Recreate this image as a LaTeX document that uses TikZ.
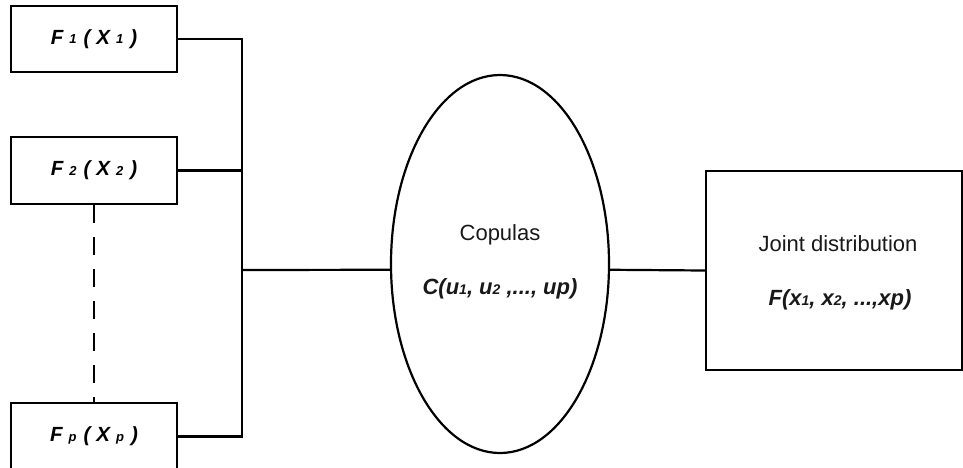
\documentclass[tikz,border=0pt]{standalone}
\usepackage{fontspec}
\setmainfont{Liberation Sans}
\usetikzlibrary{shapes.geometric}
\newcommand\smallsub[1]{\raisebox{0.5pt}{\fontsize{13}{13}\selectfont #1}}
\newcommand\flab[2]{F\hspace{6pt}\smallsub{#1}\hspace{7pt}(\hspace{6pt}X\hspace{6pt}\smallsub{#2}\hspace{7pt})}
\newcommand\tsub[1]{{\fontsize{14}{14}\selectfont #1}}
\begin{document}
\begin{tikzpicture}[x=1pt,y=-1pt,
  conn/.style={line width=2.2pt,black},
  fbox/.style={draw,line width=2.2pt,rectangle,minimum width=166pt,minimum height=66pt,inner sep=0pt,
     font=\fontsize{20.5}{20.5}\selectfont\bfseries\itshape},
  lbl/.style={inner sep=0pt,text=black!90}]
\useasboundingbox (0,0) rectangle (963,467);
\clip (0,0) rectangle (963,467);
\node[fbox] (F1) at (94,39) {\flab{1}{1}};
\node[fbox,minimum height=67pt] (F2) at (94,170.5) {\flab{2}{2}};
\node[fbox,minimum height=67pt] (Fp) at (94,436.5) {\flab{p}{p}};
\coordinate (b1) at (242,39);
\coordinate (b2) at (242,170.5);
\coordinate (bp) at (242,436.5);
\coordinate (bm) at (242,270);
\node[draw,ellipse,line width=2.2pt,minimum width=218pt,minimum height=378pt,inner sep=0pt] (C) at (500,264) {};
\node[lbl,font=\fontsize{22}{22}\selectfont] (cop) at (500,235) {Copulas};
\node[lbl,font=\fontsize{22}{22}\selectfont\bfseries\itshape] (cform) at (500,289) {C(u\tsub{1}, u\tsub{2} ,..., up)};
\node[draw,line width=2.2pt,rectangle,minimum width=256pt,minimum height=199pt,inner sep=0pt] (J) at (834,270.5) {};
\node[lbl,font=\fontsize{22}{22}\selectfont] (jd) at (838,244) {Joint distribution};
\node[lbl,font=\fontsize{22}{22}\selectfont\bfseries\itshape] (jform) at (840,300) {F(x\tsub{1}, x\tsub{2}, ...,xp)};
\draw[conn] (F1.east) -- (b1) -- (bp) -- (Fp.east);
\draw[conn] (F2.east) -- (b2);
\draw[conn] (bm) -- (C.183.15);
\draw[conn] (C.-3.15) -- (J.west);
\draw[conn,dash pattern=on 18pt off 14pt] (F2.south) -- (Fp.north);
\end{tikzpicture}
\end{document}
